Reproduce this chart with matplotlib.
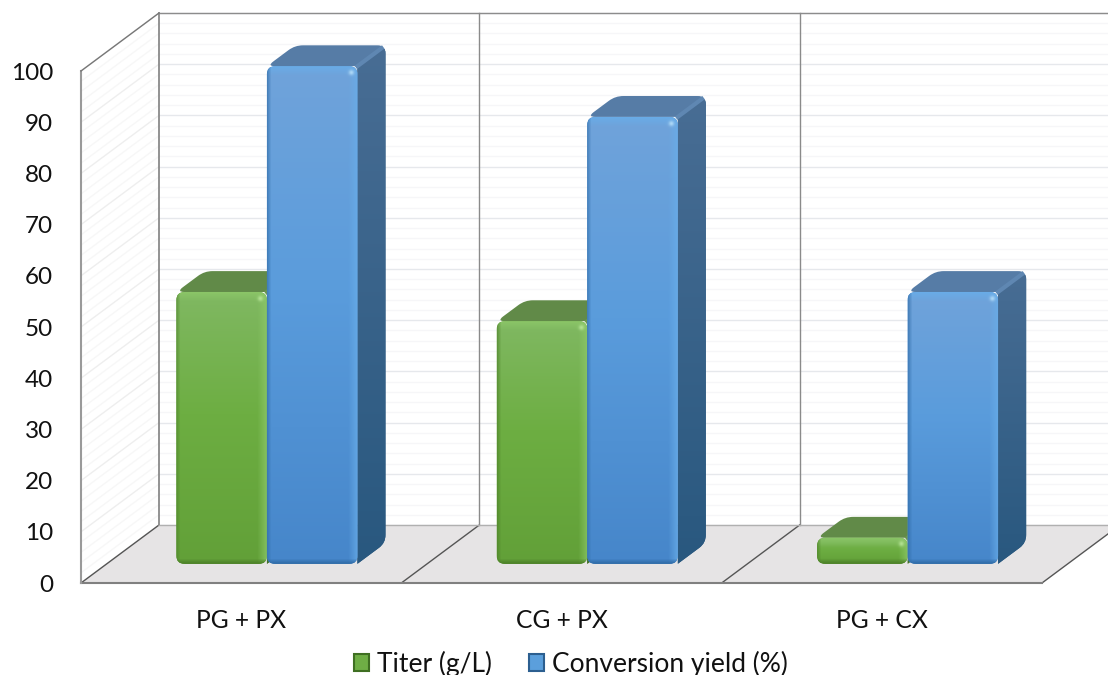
import numpy as np
import matplotlib
matplotlib.use("Agg")
import matplotlib.pyplot as plt
from matplotlib.patches import PathPatch, Polygon, Patch
from matplotlib.path import Path
from matplotlib.colors import to_rgb

categories = ["PG + PX", "CG + PX", "PG + CX"]
titer = [53.1, 47.4, 5.1]
conversion = [97.2, 87.3, 53.1]
value_ticks = list(range(0, 101, 10))
series_names = ["Titer (g/L)", "Conversion yield (%)"]

plt.rcParams["font.family"] = ["Lato", "DejaVu Sans"]

W, H = 1108, 675
fig = plt.figure(figsize=(W / 100, H / 100), dpi=100)
ax = fig.add_axes([81 / W, (H - 583) / H, 961 / W, 512 / H])
ax.set_xlim(0, 3)
ax.set_ylim(0, 100)
ax.set_autoscale_on(False)

# pixels per axis unit, and how far one full unit of depth shifts things
PX_X = 961 / 3
PX_Y = 5.12
DEPTH_X = 78 / PX_X
DEPTH_Y = 58 / PX_Y

GREEN = dict(top="#80b862", mid="#6dae42", bottom="#62a038", rim="#8cc768", dark="#4c8028",
             glint="#c6f0a8", roof="#618a48", seam="#6a9650",
             side_top="#5a8440", side_bottom="#44702a")
BLUE = dict(top="#70a3da", mid="#5a9cdc", bottom="#4686ca", rim="#68ade9", dark="#2f6ba6",
            glint="#c8ecff", roof="#567ca6", seam="#5f87b2",
            side_top="#486d94", side_bottom="#29587f")


def proj(x, v, d=0.0):
    return x + d * DEPTH_X, v + d * DEPTH_Y


def rounded_path(points, radii):
    # polygon with quadratic corners, one radius in pixels per corner
    pts = [np.array(p, dtype=float) for p in points]
    scale = np.array([PX_X, PX_Y])
    verts, codes = [], []
    n = len(pts)
    for i in range(n):
        prev_pt, cur, next_pt = pts[i - 1], pts[i], pts[(i + 1) % n]
        r = radii[i]
        a = cur + (prev_pt - cur) * min(r / np.hypot(*((prev_pt - cur) * scale)), 0.5)
        b = cur + (next_pt - cur) * min(r / np.hypot(*((next_pt - cur) * scale)), 0.5)
        verts.append(a)
        codes.append(Path.MOVETO if i == 0 else Path.LINETO)
        verts += [cur, b]
        codes += [Path.CURVE3, Path.CURVE3]
    verts.append(verts[0])
    codes.append(Path.CLOSEPOLY)
    return Path(verts, codes)


def blend(base, color, amount):
    return base + (np.array(to_rgb(color)) - base) * amount[..., None]


def front_pixels(w, h, c):
    # vertical shading with a soft bevel round the edge of the face
    w, h = int(round(w)), int(round(h))
    stops = np.array([to_rgb(c["top"]), to_rgb(c["mid"]), to_rgb(c["bottom"])])
    t = np.linspace(0, 1, h)
    column = np.stack([np.interp(t, [0, 0.45, 1], stops[:, k]) for k in range(3)], axis=1)
    img = np.repeat(column[:, None, :], w, axis=1)
    xs = np.arange(w)[None, :] * np.ones((h, 1))
    ys = np.arange(h)[:, None] * np.ones((1, w))
    img = blend(img, c["rim"], np.clip(1 - (w - 1 - xs) / 9, 0, 1) * 0.75)
    img = blend(img, c["rim"], np.clip(1 - ys / 9, 0, 1) * 0.85)
    img = blend(img, c["dark"], np.clip(1 - xs / 4, 0, 1) * 0.6)
    img = blend(img, c["dark"], np.clip(1 - (h - 1 - ys) / 5, 0, 1))
    glint = np.exp(-(((xs - (w - 7)) ** 2 + (ys - 6) ** 2) / 7.0))
    return np.clip(blend(img, c["glint"], glint * 0.7), 0, 1)


def shaded(ax, pixels, extent, clip, z):
    im = ax.imshow(pixels, extent=extent, aspect="auto", origin="upper",
                   interpolation="bilinear", zorder=z)
    im.set_clip_path(clip)
    im.set_clip_box(fig.bbox)


def draw_bar(ax, x0, x1, value, c, z):
    d0, d1 = 0.33, 0.69
    x_a, v_a = proj(x0, 0, d0)
    x_b, v_top = proj(x1, value, d0)

    # right side face, square where it meets the front
    side = [proj(x1, 0, d0), proj(x1, 0, d1), proj(x1, value, d1), proj(x1, value, d0)]
    patch = PathPatch(rounded_path(side, [0, 8, 8, 0]), facecolor=c["side_bottom"],
                      edgecolor="none", clip_on=False, zorder=z)
    ax.add_patch(patch)
    xs = [p[0] for p in side]
    vs = [p[1] for p in side]
    top, bottom = np.array(to_rgb(c["side_top"])), np.array(to_rgb(c["side_bottom"]))
    ramp = (top + (bottom - top) * np.linspace(0, 1, 64)[:, None])[:, None, :]
    shaded(ax, ramp, [min(xs), max(xs), min(vs), max(vs)], patch, z)

    # roof
    roof = [proj(x0, value, d0), proj(x1, value, d0), proj(x1, value, d1), proj(x0, value, d1)]
    ax.add_patch(PathPatch(rounded_path(roof, [8, 0, 8, 8]), facecolor=c["roof"],
                           edgecolor="none", clip_on=False, zorder=z + 0.1))
    seam_x, seam_v = zip(proj(x1, value, d0), proj(x1, value, d1 - 0.05))
    ax.plot(seam_x, seam_v, color=c["seam"], lw=3, clip_on=False, zorder=z + 0.15)

    # front face
    front = [(x_a, v_a), (x_b, v_a), (x_b, v_top), (x_a, v_top)]
    patch = PathPatch(rounded_path(front, [8, 8, 8, 8]), facecolor=c["bottom"],
                      edgecolor="none", clip_on=False, zorder=z + 0.2)
    ax.add_patch(patch)
    shaded(ax, front_pixels((x_b - x_a) * PX_X, (v_top - v_a) * PX_Y, c),
           [x_a, x_b, v_a, v_top], patch, z + 0.2)


# floor of the box
floor = [proj(0, 0, 0), proj(3, 0, 0), proj(3, 0, 1), proj(0, 0, 1)]
ax.add_patch(Polygon(floor, closed=True, facecolor="#e6e4e5", edgecolor="none", clip_on=False, zorder=1))

# back and left walls carry the grid
for v in np.arange(0, 101, 2):
    major = v % 10 == 0
    bx, by = zip(proj(0, v, 1), proj(3.2, v, 1))
    ax.plot(bx, by, color="#e6e8ec" if major else "#f6f6f8", lw=1, clip_on=False, zorder=0.5)
    sx, sy = zip(proj(0, v, 0), proj(0, v, 1))
    ax.plot(sx, sy, color="#eeeeee" if major else "#f7f7f7", lw=1, clip_on=False, zorder=0.5)

for i in range(4):
    fx, fy = zip(proj(i, 0, 0), proj(i, 0, 1))
    ax.plot(fx, fy, color="#555555", lw=1, clip_on=False, zorder=2)
    if i < 3:
        wx, wy = zip(proj(i, 0, 1), proj(i, 100, 1))
        ax.plot(wx, wy, color="#8a8a8a", lw=1.3 if i == 0 else 1, clip_on=False, zorder=2)

line_x, line_y = zip(proj(0, 100, 1), proj(3.2, 100, 1))
ax.plot(line_x, line_y, color="#8c8c8c", lw=1, clip_on=False, zorder=2)
line_x, line_y = zip(proj(0, 0, 1), proj(3.2, 0, 1))
ax.plot(line_x, line_y, color="#b0b0b0", lw=1, clip_on=False, zorder=2)
ax.plot([0, 3], [0, 0], color="#808080", lw=1.5, clip_on=False, zorder=2)
ax.plot([0, 0], [0, 100], color="#9a9a9a", lw=1.5, clip_on=False, zorder=2)
line_x, line_y = zip(proj(0, 100, 0), proj(0, 100, 1))
ax.plot(line_x, line_y, color="#777777", lw=1, clip_on=False, zorder=2)

bar_w = 0.2825
for i in range(len(categories)):
    mid = i + 0.5
    draw_bar(ax, mid - bar_w, mid, titer[i], GREEN, 3 + i * 2)
    draw_bar(ax, mid, mid + bar_w, conversion[i], BLUE, 4 + i * 2)

for s in ax.spines.values():
    s.set_visible(False)
ax.patch.set_visible(False)
ax.set_xticks([i + 0.5 for i in range(len(categories))])
ax.set_xticklabels(categories, fontsize=17.7, color="#111111")
ax.set_yticks(value_ticks)
ax.set_yticklabels([str(v) for v in value_ticks], fontsize=17.5, color="#111111")
ax.tick_params(axis="y", length=0, pad=20)
ax.tick_params(axis="x", length=0, pad=19)

handles = [Patch(facecolor="#6fae45", edgecolor="#3f6f22", lw=1.5),
           Patch(facecolor="#5b9fdc", edgecolor="#2c5f90", lw=1.5)]
fig.legend(handles, series_names, loc="center", bbox_to_anchor=(571 / W, (H - 664) / H),
           ncol=2, frameon=False, fontsize=19, handlelength=0.58, handleheight=0.6,
           handletextpad=0.3, columnspacing=1.4, borderpad=0, borderaxespad=0,
           labelcolor="#111111")

fig.savefig("out.png", dpi=100)
